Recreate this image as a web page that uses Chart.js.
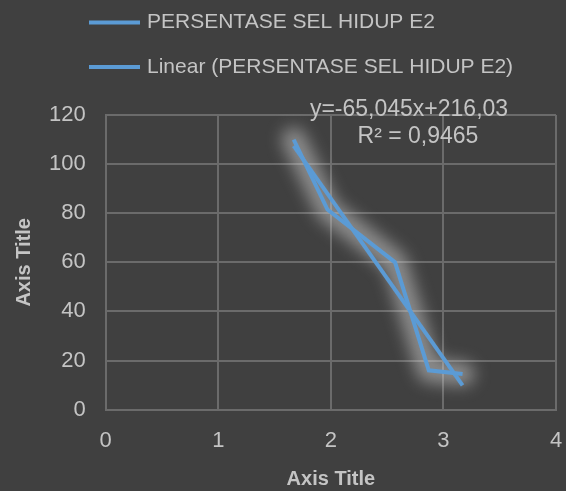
<!DOCTYPE html>
<html>
<head>
<meta charset="utf-8">
<script src="https://cdn.jsdelivr.net/npm/chart.js@4/dist/chart.umd.min.js"></script>
<style>
  html, body { margin: 0; padding: 0; background: #404040; }
  #wrap { width: 566px; height: 491px; }
</style>
</head>
<body>
<div id="wrap"><canvas id="c" width="566" height="491"></canvas></div>
<script>
// Series: percentage of living cells vs. x
const xValues = [1.67, 1.97, 2.57, 2.87, 3.17];
const yValues = [110, 81.5, 60, 16, 14.5];

// Linear trendline as reported in the label
const trendSlope = -65.045;
const trendIntercept = 216.03;
const trendR2 = 0.9465;

const seriesName = 'PERSENTASE SEL HIDUP E2';
const trendName = 'Linear (PERSENTASE SEL HIDUP E2)';
const xTicks = [0, 1, 2, 3, 4];
const yTicks = [0, 20, 40, 60, 80, 100, 120];

const LINE = '#5B9BD5';
const TEXT = '#c4c4c4';
const GRID = '#6b6b6b';
const FONT = "'Liberation Sans', Arial, sans-serif";

const fmt = (v, d) => v.toFixed(d).replace('.', ',');

const points = xValues.map((x, i) => ({ x, y: yValues[i] }));
const xMin = Math.min(...xValues), xMax = Math.max(...xValues);
const trendPoints = [xMin, xMax].map(x => ({ x, y: trendSlope * x + trendIntercept }));

// Soft glow under the data series
const glowPlugin = {
  id: 'glow',
  beforeDatasetsDraw(chart) {
    const meta = chart.getDatasetMeta(0);
    const ctx = chart.ctx;
    ctx.save();
    ctx.filter = 'blur(8px)';
    ctx.strokeStyle = 'rgba(215,215,215,0.5)';
    ctx.lineWidth = 24;
    ctx.lineCap = 'round';
    ctx.lineJoin = 'round';
    ctx.beginPath();
    meta.data.forEach((p, i) => i ? ctx.lineTo(p.x, p.y) : ctx.moveTo(p.x, p.y));
    ctx.stroke();
    ctx.restore();
  }
};

// Legend rows and trendline equation
const textPlugin = {
  id: 'texts',
  afterDraw(chart) {
    const ctx = chart.ctx;
    ctx.save();
    ctx.fillStyle = TEXT;
    ctx.font = '21px ' + FONT;
    ctx.textBaseline = 'middle';
    ctx.textAlign = 'left';
    const rows = [[seriesName, 22.5], [trendName, 67]];
    rows.forEach(([label, y]) => {
      ctx.strokeStyle = LINE;
      ctx.lineWidth = 4;
      ctx.beginPath();
      ctx.moveTo(89, y);
      ctx.lineTo(140, y);
      ctx.stroke();
      ctx.fillText(label, 147, y);
    });
    ctx.font = '23px ' + FONT;
    ctx.textAlign = 'center';
    const eq = 'y = ' + fmt(trendSlope, 3) + 'x + ' + fmt(trendIntercept, 2);
    ctx.fillText(eq.replace(/ /g, ''), 409, 110);
    ctx.fillText('R² = ' + fmt(trendR2, 4), 418, 137);
    ctx.restore();
  }
};

new Chart(document.getElementById('c'), {
  type: 'scatter',
  data: {
    datasets: [
      { label: seriesName, data: points, showLine: true, borderColor: LINE,
        borderWidth: 4, pointRadius: 0, tension: 0 },
      { label: trendName, data: trendPoints, showLine: true, borderColor: LINE,
        borderWidth: 4, pointRadius: 0 }
    ]
  },
  options: {
    responsive: false,
    animation: false,
    layout: { padding: { top: 115, right: 0, left: 12, bottom: 0 } },
    plugins: { legend: { display: false }, tooltip: { enabled: false } },
    scales: {
      x: {
        type: 'linear', min: 0, max: 4,
        afterBuildTicks: s => { s.ticks = xTicks.map(v => ({ value: v })); },
        afterFit: s => { s.paddingRight = 10; },
        grid: { color: GRID, lineWidth: 2, drawTicks: false },
        border: { color: GRID, width: 2 },
        ticks: { color: TEXT, font: { family: FONT, size: 22 }, padding: 18 },
        title: { display: true, text: 'Axis Title', color: TEXT,
                 font: { family: FONT, size: 20, weight: 'bold' }, padding: { top: -5, bottom: 0 } }
      },
      y: {
        type: 'linear', min: 0, max: 120,
        afterBuildTicks: s => { s.ticks = yTicks.map(v => ({ value: v })); },
        grid: { color: GRID, lineWidth: 2, drawTicks: false },
        border: { color: GRID, width: 2 },
        ticks: { color: TEXT, font: { family: FONT, size: 22 }, padding: 20 },
        title: { display: true, text: 'Axis Title', color: TEXT,
                 font: { family: FONT, size: 20, weight: 'bold' }, padding: { top: 0, bottom: -7 } }
      }
    }
  },
  plugins: [glowPlugin, textPlugin]
});
</script>
</body>
</html>
